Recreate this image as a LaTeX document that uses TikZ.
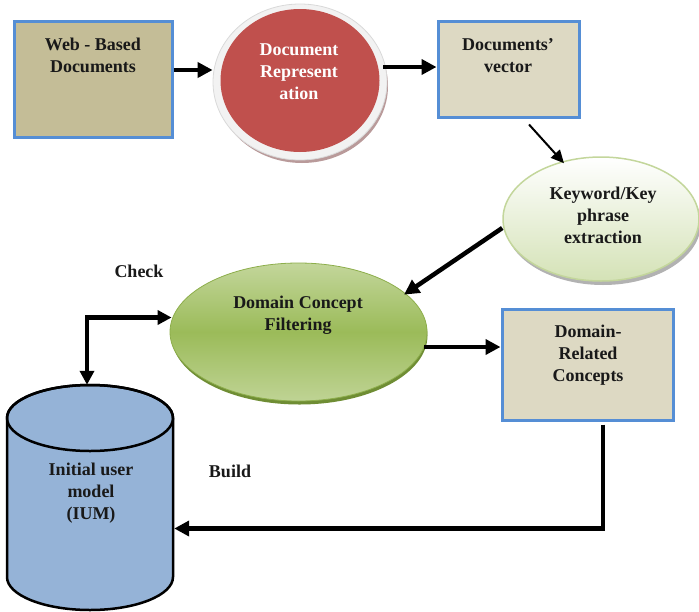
\documentclass[tikz,border=0pt]{standalone}
\usepackage{fontspec}
\setmainfont{Liberation Serif}
\usetikzlibrary{arrows.meta,shapes.geometric}
\definecolor{boxblue}{HTML}{558ED5}
\definecolor{webfill}{HTML}{C4BD97}
\definecolor{vecfill}{HTML}{DDD9C3}
\definecolor{repred}{HTML}{C0504D}
\definecolor{repring}{HTML}{F2F2F2}
\definecolor{repedge}{HTML}{D9D9D9}
\definecolor{repshadow}{HTML}{B99A9A}
\definecolor{keyedge}{HTML}{C3D69B}
\definecolor{keybottom}{HTML}{D4E2B6}
\definecolor{filmid}{HTML}{9BBB59}
\definecolor{fillight}{HTML}{C3D69B}
\definecolor{filedge}{HTML}{8DAE4B}
\definecolor{filshadow}{HTML}{6F8D34}
\definecolor{cylfill}{HTML}{95B3D7}
\begin{document}
\begin{tikzpicture}[x=1pt,y=1pt,
  txt/.style={font=\fontsize{18}{22}\selectfont\bfseries, align=center, inner sep=0pt, anchor=base, text=black!90},
  bluebox/.style={draw=boxblue, line width=3pt, inner sep=0pt, rectangle},
  bigarrow/.style={line width=4.5pt, -{Triangle[length=15pt,width=15pt]}},
  thinarrow/.style={line width=2pt, -{Triangle[length=13pt,width=12pt]}},
  twoarrow/.style={line width=4.2pt, {Triangle[length=14pt,width=14pt]}-{Triangle[length=14pt,width=14pt]}},
]
\useasboundingbox (0,0) rectangle (699,-611);

% Web-Based Documents
\node[bluebox, fill=webfill, minimum width=158pt, minimum height=116pt] (web) at (93,-79) {};
\node[txt] (webtxt) at (93,-72) {Web - Based\\Documents};

% Document Representation
\fill[repshadow] (302,-86) ellipse [x radius=86, y radius=77];
\node[ellipse, fill=repring, draw=repedge, line width=0.8pt, minimum width=174pt, minimum height=156pt, inner sep=0pt] (rep) at (300,-82) {};
\fill[repred] (300,-80.5) ellipse [x radius=79.5, y radius=71.5];
\node[txt, text=white] (reptxt) at (299,-99) {Document\\Represent\\ation};

% Documents' vector
\node[bluebox, fill=vecfill, minimum width=141pt, minimum height=96pt] (vec) at (508.5,-69) {};
\node[txt] (vectxt) at (508,-72) {Documents’\\vector};

% Keyword/Key phrase extraction
\fill[black!30] (603,-223) ellipse [x radius=98, y radius=62];
\node[ellipse, top color=white, bottom color=keybottom, draw=keyedge, line width=1.5pt, minimum width=196pt, minimum height=124pt, inner sep=0pt] (key) at (601,-219) {};
\node[txt] (keytxt) at (603,-243) {Keyword/Key\\phrase\\extraction};

% Domain Concept Filtering
\fill[filshadow] (299.5,-335.5) ellipse [x radius=128, y radius=69];
\node[ellipse, top color=fillight, bottom color=fillight!90!filmid, middle color=filmid, draw=filedge, line width=0.8pt, minimum width=257pt, minimum height=138pt, inner sep=0pt] (fil) at (298.5,-332) {};
\node[txt] (filtxt) at (298,-330) {Domain Concept\\Filtering};

% Domain-Related Concepts
\node[bluebox, fill=vecfill, minimum width=171pt, minimum height=111pt] (dom) at (587.5,-364.5) {};
\node[txt] (domtxt) at (588,-381) {Domain-\\Related\\Concepts};

% Initial user model cylinder
\node[minimum width=166pt, minimum height=225pt, inner sep=0pt] (ium) at (90,-497.5) {};
\filldraw[fill=cylfill, draw=black, line width=2.5pt]
  (7,-418) -- (7,-577) arc[start angle=180, end angle=360, x radius=83, y radius=33]
  -- (173,-418) arc[start angle=0, end angle=180, x radius=83, y radius=33] -- cycle;
\draw[line width=2.5pt] (90,-418) ellipse [x radius=83, y radius=33];
\node[txt] (iumtxt) at (91,-519) {Initial user\\model\\(IUM)};

% Labels
\node[txt] (check) at (139,-277) {Check};
\node[txt] (build) at (230,-477) {Build};

% Connectors
\draw[bigarrow] ([yshift=9pt]web.east) -- ([yshift=9pt]web.east -| rep.west);
\draw[bigarrow] ([xshift=-4pt,yshift=15pt]rep.east) -- ([yshift=2pt]vec.west);
\draw[thinarrow] ([xshift=20.5pt,yshift=-6pt]vec.south) -- ([xshift=-37pt,yshift=-7pt]key.north);
\draw[bigarrow] ([yshift=-9pt]key.west) -- ([xshift=-3pt]fil.19);
\draw[bigarrow] ([xshift=-3pt,yshift=17.5pt]dom.west -| fil.east) -- ([yshift=17.5pt]dom.west);
\draw[twoarrow] ([xshift=-3pt]ium.north) |- ([xshift=2pt,yshift=14.5pt]fil.west);
\draw[bigarrow] ([xshift=15.5pt,yshift=-3pt]dom.south) |- ([xshift=1pt,yshift=-31pt]ium.east);
\end{tikzpicture}
\end{document}
